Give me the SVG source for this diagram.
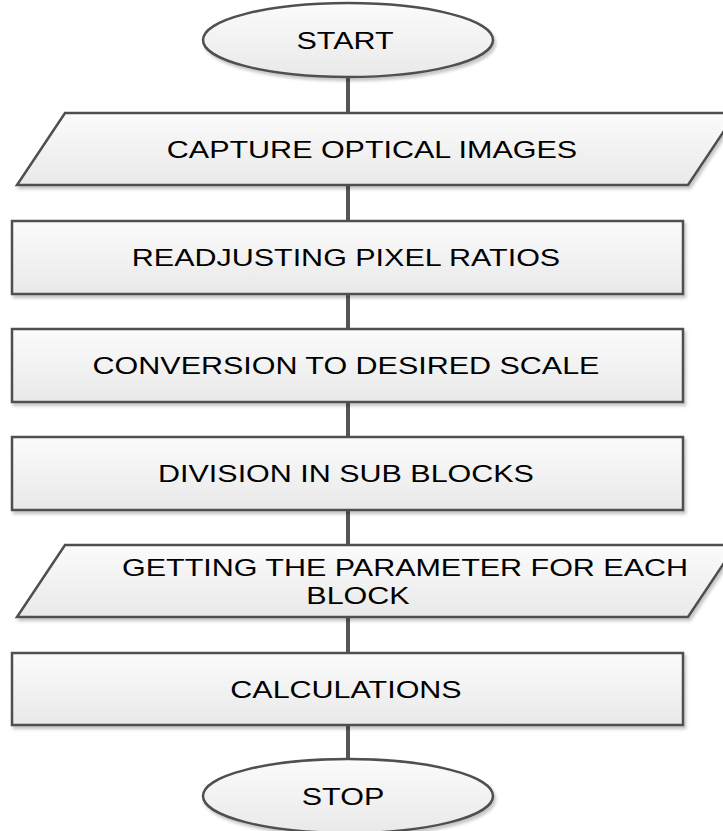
<svg xmlns="http://www.w3.org/2000/svg" width="723" height="831" viewBox="0 0 723 831">
<defs>
<linearGradient id="fillG" x1="0" y1="0" x2="0" y2="1">
<stop offset="0" stop-color="#fbfbfb"/>
<stop offset="1" stop-color="#e9e9e9"/>
</linearGradient>
<filter id="sh" x="-5%" y="-10%" width="112%" height="130%">
<feDropShadow dx="2" dy="3" stdDeviation="1.5" flood-color="#000" flood-opacity="0.22"/>
</filter>
<style>
.shape{fill:url(#fillG);stroke:#4f4f4f;stroke-width:2.5;filter:url(#sh);}
.conn{stroke:#555;stroke-width:4;fill:none;}
.lbl{font-family:"Liberation Sans",Arial,sans-serif;font-size:24px;fill:#000;text-anchor:middle;}
</style>
</defs>
<g id="connectors">
<line class="conn" x1="348" y1="77" x2="348" y2="113"/>
<line class="conn" x1="348" y1="185" x2="348" y2="221"/>
<line class="conn" x1="348" y1="294" x2="348" y2="329"/>
<line class="conn" x1="348" y1="402" x2="348" y2="437"/>
<line class="conn" x1="348" y1="510" x2="348" y2="545"/>
<line class="conn" x1="348" y1="617" x2="348" y2="653"/>
<line class="conn" x1="348" y1="725" x2="348" y2="759"/>
</g>
<g id="start">
<ellipse class="shape" cx="348" cy="40" rx="145" ry="37"/>
<text class="lbl" transform="translate(345,48.5) scale(1.27,1)">START</text>
</g>
<g id="capture">
<polygon class="shape" points="65,113 736,113 688,185 17,185"/>
<text class="lbl" transform="translate(372,157.5) scale(1.27,1)">CAPTURE OPTICAL IMAGES</text>
</g>
<g id="readjust">
<rect class="shape" x="12" y="221" width="671" height="73"/>
<text class="lbl" transform="translate(346,266) scale(1.27,1)">READJUSTING PIXEL RATIOS</text>
</g>
<g id="conversion">
<rect class="shape" x="12" y="329" width="671" height="73"/>
<text class="lbl" transform="translate(346,374) scale(1.27,1)">CONVERSION TO DESIRED SCALE</text>
</g>
<g id="division">
<rect class="shape" x="12" y="437" width="671" height="73"/>
<text class="lbl" transform="translate(346,482) scale(1.27,1)">DIVISION IN SUB BLOCKS</text>
</g>
<g id="getting">
<polygon class="shape" points="65,545 736,545 688,617 17,617"/>
<text class="lbl" transform="translate(405,575.5) scale(1.27,1)">GETTING THE PARAMETER FOR EACH</text>
<text class="lbl" transform="translate(358,604) scale(1.27,1)">BLOCK</text>
</g>
<g id="calculations">
<rect class="shape" x="12" y="653" width="671" height="72"/>
<text class="lbl" transform="translate(346,697.5) scale(1.27,1)">CALCULATIONS</text>
</g>
<g id="stop">
<ellipse class="shape" cx="348" cy="796" rx="145" ry="37"/>
<text class="lbl" transform="translate(343,804.5) scale(1.27,1)">STOP</text>
</g>
</svg>
